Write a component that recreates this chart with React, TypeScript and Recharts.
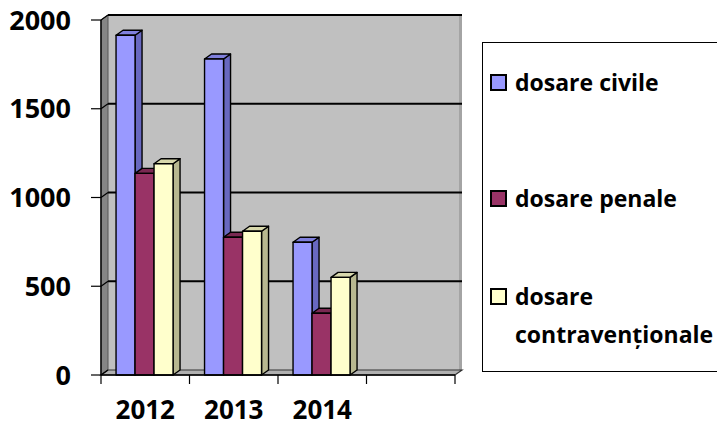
import React from 'react';
import { BarChart, Bar, XAxis, YAxis } from 'recharts';

// --- date ---
const years = ['2012', '2013', '2014', ''];
const civile = [1914, 1780, 748, null];
const penale = [1136, 776, 348, null];
const contraventionale = [1190, 810, 550, null];
const yTicks = [0, 500, 1000, 1500, 2000];

const seriesDefs = [
  { key: 'civile', name: 'dosare civile', values: civile, color: '#9999ff', side: '#6868c0', top: '#8080dd' },
  { key: 'penale', name: 'dosare penale', values: penale, color: '#993366', side: '#6a2347', top: '#7a2952' },
  { key: 'contrav', name: 'dosare contravenționale', values: contraventionale, color: '#ffffcc', side: '#b8b890', top: '#d8d8ac' },
];

const data = years.map((year, i) => {
  const row: any = { year };
  seriesDefs.forEach((s) => { row[s.key] = s.values[i]; });
  return row;
});

// --- geometrie ---
const W = 717;
const H = 427;
const PLOT_LEFT = 101;
const PLOT_TOP = 20;
const PLOT_RIGHT = 455;
const PLOT_BOTTOM = 375;
const DX = 7;
const DY = 5;
const FONT = '"Open Sans", sans-serif';
const yMax = yTicks[yTicks.length - 1];
const valueToY = (v: number) => PLOT_BOTTOM - ((PLOT_BOTTOM - PLOT_TOP) * v) / yMax;
const bandWidth = (PLOT_RIGHT - PLOT_LEFT) / years.length;

const Bar3D = (props: any) => {
  const { x, y, width, height, fill, side, top } = props;
  if (!height || height <= 0) return null;
  return (
    <g stroke="#000" strokeWidth={1.4} strokeLinejoin="round">
      <polygon points={`${x + width},${y} ${x + width + DX},${y - DY} ${x + width + DX},${y + height - DY} ${x + width},${y + height}`} fill={side} />
      <polygon points={`${x},${y} ${x + DX},${y - DY} ${x + width + DX},${y - DY} ${x + width},${y}`} fill={top} />
      <rect x={x} y={y} width={width} height={height} fill={fill} />
    </g>
  );
};

const Walls = () => (
  <svg width={W} height={H} style={{ position: 'absolute', left: 0, top: 0 }}>
    {/* perete spate */}
    <rect x={PLOT_LEFT + DX} y={PLOT_TOP - DY} width={PLOT_RIGHT - PLOT_LEFT} height={PLOT_BOTTOM - PLOT_TOP} fill="#c0c0c0" />
    <rect x={PLOT_RIGHT + DX - 3} y={PLOT_TOP - DY} width={3} height={PLOT_BOTTOM - PLOT_TOP} fill="#a4a4a4" />
    {/* perete stanga */}
    <polygon
      points={`${PLOT_LEFT},${PLOT_TOP} ${PLOT_LEFT + DX},${PLOT_TOP - DY} ${PLOT_LEFT + DX},${PLOT_BOTTOM - DY} ${PLOT_LEFT},${PLOT_BOTTOM}`}
      fill="#858585"
      stroke="#555"
      strokeWidth={1}
    />
    {/* podea */}
    <polygon
      points={`${PLOT_LEFT},${PLOT_BOTTOM} ${PLOT_LEFT + DX},${PLOT_BOTTOM - DY} ${PLOT_RIGHT + DX},${PLOT_BOTTOM - DY} ${PLOT_RIGHT},${PLOT_BOTTOM}`}
      fill="#b0b0b0"
      stroke="#333"
      strokeWidth={1.2}
    />
    {yTicks.map((t) => (
      <g key={t} stroke="#000">
        {t > 0 && (
          <line x1={PLOT_LEFT + DX} x2={PLOT_RIGHT + DX} y1={valueToY(t) - DY} y2={valueToY(t) - DY} strokeWidth={1.8} />
        )}
        <line x1={PLOT_LEFT} x2={PLOT_LEFT + DX} y1={valueToY(t)} y2={valueToY(t) - DY} strokeWidth={1.2} />
      </g>
    ))}
  </svg>
);

const XTick = (props: any) => {
  const { x, payload, index } = props;
  const left = x - bandWidth / 2;
  return (
    <g>
      <line x1={left} x2={left} y1={PLOT_BOTTOM} y2={PLOT_BOTTOM + 9} stroke="#000" strokeWidth={1.2} />
      {index === years.length - 1 && (
        <line x1={left + bandWidth} x2={left + bandWidth} y1={PLOT_BOTTOM} y2={PLOT_BOTTOM + 9} stroke="#000" strokeWidth={1.2} />
      )}
      <text x={x} y={PLOT_BOTTOM + 44} textAnchor="middle" fontFamily={FONT} fontWeight="bold" fontSize={26} fill="#000">
        {payload.value}
      </text>
    </g>
  );
};

const legendItems = [
  { s: seriesDefs[0], top: 20, lines: ['dosare civile'] },
  { s: seriesDefs[1], top: 136, lines: ['dosare penale'] },
  { s: seriesDefs[2], top: 234, lines: ['dosare', 'contravenționale'] },
];

const LegendBox = () => (
  <div
    style={{
      position: 'absolute',
      left: 482,
      top: 42,
      width: 270,
      height: 330,
      border: '1px solid #000',
      background: '#fff',
      fontFamily: FONT,
      fontWeight: 'bold',
      fontSize: 23,
      color: '#000',
      boxSizing: 'border-box',
    }}
  >
    {legendItems.map(({ s, top, lines }) => (
      <div key={s.key} style={{ position: 'absolute', left: 7, top, lineHeight: '38px', whiteSpace: 'nowrap' }}>
        <span
          style={{
            position: 'absolute',
            left: 0,
            top: 11,
            width: 13,
            height: 13,
            border: '2px solid #000',
            background: s.color,
          }}
        />
        {lines.map((l) => (
          <div key={l} style={{ marginLeft: 25 }}>{l}</div>
        ))}
      </div>
    ))}
  </div>
);

export default function App() {
  return (
    <div style={{ position: 'absolute', left: 0, top: 0, width: W, height: H, background: '#fff', overflow: 'hidden' }}>
      <Walls />
      <div style={{ position: 'absolute', left: 0, top: 0 }}>
        <BarChart
          width={W}
          height={H}
          data={data}
          margin={{ top: PLOT_TOP, right: W - PLOT_RIGHT, bottom: 0, left: 0 }}
          barCategoryGap="17%"
          barGap={0}
        >
          <XAxis
            dataKey="year"
            height={H - PLOT_BOTTOM}
            axisLine={{ stroke: '#000', strokeWidth: 1.4 }}
            tickLine={false}
            tick={<XTick />}
            interval={0}
          />
          <YAxis
            width={PLOT_LEFT}
            domain={[0, yMax]}
            ticks={yTicks}
            interval={0}
            axisLine={{ stroke: '#000', strokeWidth: 1.4 }}
            tickLine={{ stroke: '#000', strokeWidth: 1.2 }}
            tickSize={10}
            tickMargin={20}
            tick={{ fill: '#000', fontFamily: FONT, fontWeight: 'bold', fontSize: 27 }}
          />
          {seriesDefs.map((s) => (
            <Bar
              key={s.key}
              dataKey={s.key}
              name={s.name}
              fill={s.color}
              isAnimationActive={false}
              shape={(p: any) => <Bar3D {...p} side={s.side} top={s.top} />}
            />
          ))}
        </BarChart>
      </div>
      <LegendBox />
    </div>
  );
}
